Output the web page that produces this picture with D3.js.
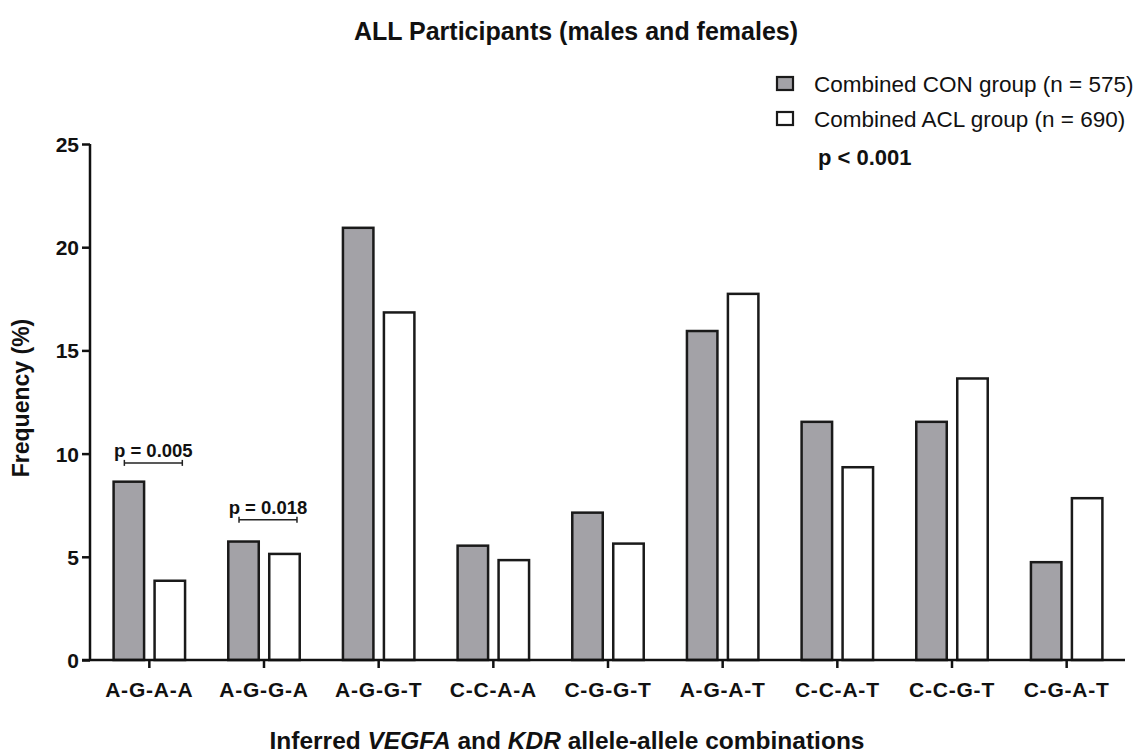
<!DOCTYPE html>
<html>
<head>
<meta charset="utf-8">
<script src="https://cdn.jsdelivr.net/npm/d3@7"></script>
<style>
  html, body { margin: 0; padding: 0; background: #fff; }
  svg { display: block; font-family: "Liberation Sans", Arial, Helvetica, sans-serif; }
</style>
</head>
<body>
<svg id="chart" width="1139" height="753"></svg>
<script>
// Inferred VEGFA–KDR allele-allele combinations
const categories = ["A-G-A-A", "A-G-G-A", "A-G-G-T", "C-C-A-A", "C-G-G-T", "A-G-A-T", "C-C-A-T", "C-C-G-T", "C-G-A-T"];
const seriesNames = ["Combined CON group (n = 575)", "Combined ACL group (n = 690)"];
const conValues = [8.7, 5.8, 21.0, 5.6, 7.2, 16.0, 11.6, 11.6, 4.8];
const aclValues = [3.9, 5.2, 16.9, 4.9, 5.7, 17.8, 9.4, 13.7, 7.9];
const yTicks = [0, 5, 10, 15, 20, 25];
const seriesFill = ["#a3a2a7", "#ffffff"];

// pairwise comparisons drawn as brackets above a category
const comparisons = [
  { category: "A-G-A-A", level: 9.55, label: "p = 0.005" },
  { category: "A-G-G-A", level: 6.8, label: "p = 0.018" }
];

const svg = d3.select("#chart");
const plot = { left: 90, right: 1124, top: 144, bottom: 660 };

const x = d3.scaleBand().domain(categories).range([plot.left + 2, plot.right]).paddingInner(0.355).paddingOuter(0.1775);
const xs = d3.scaleBand().domain([0, 1]).range([0, x.bandwidth()]).paddingInner(0.195);
const y = d3.scaleLinear().domain([0, 25]).range([plot.bottom, plot.top]);

const rows = categories.map((c, i) => ({ category: c, values: [conValues[i], aclValues[i]] }));
const sw = 2.5;

// bars
const groups = svg.append("g").selectAll("g").data(rows).join("g")
  .attr("transform", d => `translate(${x(d.category)},0)`);
groups.selectAll("rect").data(d => d.values.map((v, s) => ({ v, s }))).join("rect")
  .attr("x", d => xs(d.s) + sw / 2)
  .attr("width", xs.bandwidth() - sw)
  .attr("y", d => y(d.v) + sw / 2)
  .attr("height", d => y(0) - y(d.v) - sw / 2)
  .attr("fill", d => seriesFill[d.s])
  .attr("stroke", "#1a1a1a")
  .attr("stroke-width", sw);

// y axis
const yAxis = svg.append("g").attr("transform", `translate(${plot.left},0)`)
  .call(d3.axisLeft(y).tickValues(yTicks).tickSize(8).tickPadding(3));
yAxis.select(".domain").attr("d", `M0,${plot.top}V${plot.bottom}`);
// x axis
const xAxis = svg.append("g").attr("transform", `translate(0,${plot.bottom})`)
  .call(d3.axisBottom(x).tickSize(8).tickPadding(14));
xAxis.select(".domain").attr("d", `M${plot.left - 8},0H${plot.right + 1}`);

svg.selectAll(".domain, .tick line").attr("stroke", "#111").attr("stroke-width", 2.5);
yAxis.selectAll(".tick text").attr("font-size", 21).attr("font-weight", "bold").attr("fill", "#111")
  .attr("font-family", "Liberation Sans, Arial, sans-serif").attr("dy", "0.36em");
xAxis.selectAll(".tick text").attr("font-size", 21).attr("font-weight", "bold").attr("fill", "#111")
  .attr("font-family", "Liberation Sans, Arial, sans-serif").attr("letter-spacing", "0.8px");

// significance brackets
comparisons.forEach(c => {
  const x0 = x(c.category) + xs(0) + 12;
  const x1 = x(c.category) + xs(1) + xs.bandwidth() - 4;
  const yy = y(c.level);
  const g = svg.append("g").attr("stroke", "#222").attr("stroke-width", 1.5);
  g.append("line").attr("x1", x0).attr("x2", x1).attr("y1", yy).attr("y2", yy);
  g.append("line").attr("x1", x0).attr("x2", x0).attr("y1", yy - 3).attr("y2", yy + 3);
  g.append("line").attr("x1", x1).attr("x2", x1).attr("y1", yy - 3).attr("y2", yy + 3);
  svg.append("text").attr("x", (x0 + x1) / 2).attr("y", yy - 6)
    .attr("text-anchor", "middle").attr("font-size", 18.5).attr("font-weight", "bold").attr("fill", "#111")
    .text(c.label);
});

// title
svg.append("text").attr("x", 576).attr("y", 40).attr("text-anchor", "middle")
  .attr("font-size", 25).attr("font-weight", "bold").attr("fill", "#111")
  .text("ALL Participants (males and females)");

// axis titles
svg.append("text").attr("transform", `translate(29,398) rotate(-90)`)
  .attr("text-anchor", "middle").attr("font-size", 23).attr("font-weight", "bold").attr("fill", "#111")
  .text("Frequency (%)");

const xt = svg.append("text").attr("x", 567).attr("y", 749).attr("text-anchor", "middle")
  .attr("font-size", 24.5).attr("font-weight", "bold").attr("fill", "#111");
xt.append("tspan").text("Inferred ");
xt.append("tspan").attr("font-style", "italic").text("VEGFA");
xt.append("tspan").text(" and ");
xt.append("tspan").attr("font-style", "italic").text("KDR");
xt.append("tspan").text(" allele-allele combinations");

// legend
const legend = svg.append("g").attr("transform", "translate(776,76)");
seriesNames.forEach((name, i) => {
  const row = legend.append("g").attr("transform", `translate(0,${i * 35})`);
  row.append("rect").attr("x", 1).attr("y", 1).attr("width", 16).attr("height", 13)
    .attr("fill", seriesFill[i]).attr("stroke", "#1a1a1a").attr("stroke-width", 2.2);
  row.append("text").attr("x", 38).attr("y", 16).attr("font-size", 22.5).attr("fill", "#111").text(name);
});
legend.append("text").attr("x", 42).attr("y", 89).attr("font-size", 22).attr("font-weight", "bold")
  .attr("fill", "#111").text("p < 0.001");
</script>
</body>
</html>
